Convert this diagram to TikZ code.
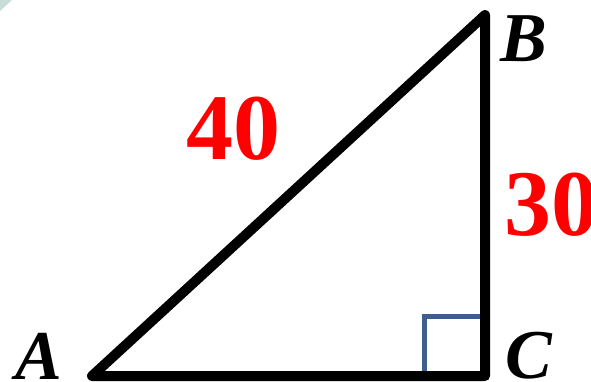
\documentclass[tikz,border=0pt]{standalone}
\usepackage{fontspec}
\setmainfont{Liberation Serif}
\definecolor{sqblue}{RGB}{62,95,140}
\definecolor{cornerteal}{RGB}{200,220,216}
\begin{document}
\begin{tikzpicture}[x=1pt,y=-1pt,
  side/.style={line width=10pt,line join=round,line cap=round,black},
  vlabel/.style={anchor=base west,inner sep=0pt,font=\fontsize{70}{70}\selectfont\bfseries\itshape},
  numlabel/.style={anchor=base west,inner sep=0pt,text=red,font=\fontsize{94}{94}\selectfont\bfseries}]
\useasboundingbox (0,0) rectangle (591,382);
\fill[cornerteal] (0,0) -- (12,0) -- (0,11) -- cycle;
\coordinate (A) at (92,376);
\coordinate (B) at (485,15);
\coordinate (C) at (485,376);
\coordinate (S1) at (424.5,376);
\coordinate (S2) at (424.5,316.5);
\coordinate (S3) at (485,316.5);
\draw[sqblue,line width=4.5pt] (S1) -- (S2) -- (S3);
\draw[side] (A) -- (B) -- (C) -- cycle;
\node[vlabel] (la) at (15,379) {A};
\node[vlabel] (lb) at (500,62) {B};
\node[vlabel] (lc) at (505,378) {C};
\node[numlabel] (n40) at (186,160) {40};
\node[numlabel] (n30) at (504,235) {30};
\end{tikzpicture}
\end{document}
